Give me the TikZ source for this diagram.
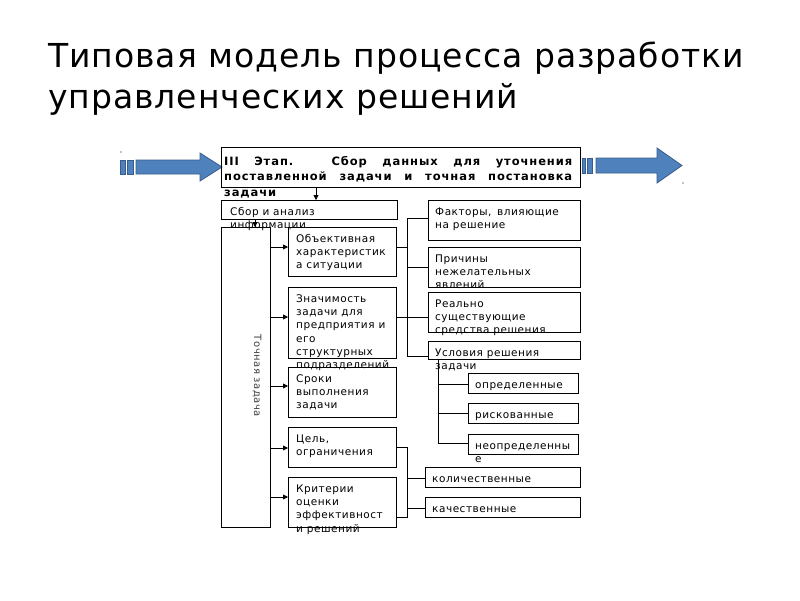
\documentclass[tikz,border=0pt]{standalone}
\usepackage{fontspec}
\setmainfont{DejaVu Sans}
\newfontfamily\bxf[LetterSpace=5]{DejaVu Sans}
\newfontfamily\hdf[LetterSpace=8]{DejaVu Sans}
\newfontfamily\ttf[LetterSpace=3]{DejaVu Sans}
\usetikzlibrary{arrows.meta}
\definecolor{arrowblue}{RGB}{79,129,189}
\definecolor{arrowedge}{RGB}{56,93,138}
\newcommand\stt{\rule{0pt}{10pt}}
\begin{document}
\begin{tikzpicture}[x=1pt,y=-1pt,
  box/.style={draw, line width=0.8pt, inner sep=0, anchor=north west},
  txt/.style={anchor=north west, inner sep=0, align=left, font=\bxf\fontsize{10.5}{13.3}\selectfont},
  conn/.style={line width=0.8pt},
  arr/.style={conn, -{Triangle[length=5pt,width=5pt]}},
  bluearrow/.style={fill=arrowblue, draw=arrowedge, line width=0.8pt},
  titletxt/.style={anchor=base west, inner sep=0, font=\ttf\fontsize{33}{41}\selectfont}]
\useasboundingbox[fill=white] (0,0) rectangle (800,600);

% title
\node[titletxt] (t1) at (48,67) {Типовая модель процесса разработки};
\node[titletxt] (t2) at (48,108) {управленческих решений};

% big arrows
\draw[bluearrow] (120,160) rectangle (125,174);
\draw[bluearrow] (127,160) rectangle (133,174);
\draw[bluearrow] (136,160) -- (200,160) -- (200,153) -- (222,167) -- (200,181) -- (200,174) -- (136,174) -- cycle;
\draw[bluearrow] (582,158) rectangle (585,173);
\draw[bluearrow] (587,158) rectangle (592,173);
\draw[bluearrow] (596,158) -- (657,158) -- (657,148) -- (682,165.5) -- (657,183) -- (657,173) -- (596,173) -- cycle;
\fill (121,152) circle (0.6);
\fill (683,183) circle (0.6);

% boxes
\node[box, minimum width=359, minimum height=40] (main) at (221,147) {};
\node[box, minimum width=176, minimum height=19] (sbor) at (221,200) {};
\node[box, minimum width=49, minimum height=300] (tall) at (221,227) {};
\node[box, minimum width=108, minimum height=49] (ob) at (288,227) {};
\node[box, minimum width=108, minimum height=71] (zn) at (288,287) {};
\node[box, minimum width=108, minimum height=50] (sr) at (288,367) {};
\node[box, minimum width=108, minimum height=40] (cel) at (288,427) {};
\node[box, minimum width=108, minimum height=50] (kr) at (288,477) {};
\node[box, minimum width=152, minimum height=40] (fak) at (428,200) {};
\node[box, minimum width=152, minimum height=40] (pri) at (428,247) {};
\node[box, minimum width=152, minimum height=40] (rea) at (428,292) {};
\node[box, minimum width=152, minimum height=18] (usl) at (428,341) {};
\node[box, minimum width=110, minimum height=20] (opr) at (468,373) {};
\node[box, minimum width=110, minimum height=20] (ris) at (468,403) {};
\node[box, minimum width=110, minimum height=20] (neo) at (468,434) {};
\node[box, minimum width=155, minimum height=20] (kol) at (425,467) {};
\node[box, minimum width=155, minimum height=20] (kach) at (425,497) {};

% texts
\node[anchor=north west, inner sep=0, text width=348, align=justify,
      font=\hdf\bfseries\fontsize{11.5}{15.5}\selectfont] (maintxt) at (224,155)
  {\stt III Этап. Сбор данных для уточнения\linebreak поставленной задачи и точная постановка\linebreak задачи};
\node[txt] (sbortxt) at (230,205) {\stt Сбор и анализ\\информации};
\node[txt] (obtxt) at (296,232) {\stt Объективная\\характеристик\\а ситуации};
\node[txt] (zntxt) at (296,292) {\stt Значимость\\задачи для\\предприятия и\\его\\структурных\\подразделений};
\node[txt] (srtxt) at (296,372) {\stt Сроки\\выполнения\\задачи};
\node[txt] (celtxt) at (296,432) {\stt Цель,\\ограничения};
\node[txt] (krtxt) at (296,482) {\stt Критерии\\оценки\\эффективност\\и решений};
\node[txt] (faktxt) at (435,205) {\stt Факторы,\, влияющие\\на решение};
\node[txt] (pritxt) at (435,252) {\stt Причины\\нежелательных\\явлений};
\node[txt] (reatxt) at (435,297) {\stt Реально\\существующие\\средства решения};
\node[txt] (usltxt) at (435,346) {\stt Условия решения\\задачи};
\node[txt] (oprtxt) at (475,378) {\stt определенные};
\node[txt] (ristxt) at (475,408) {\stt рискованные};
\node[txt] (neotxt) at (475,439) {\stt неопределенны\\е};
\node[txt] (koltxt) at (432,472) {\stt количественные};
\node[txt] (kachtxt) at (432,502) {\stt качественные};
\node[rotate=-90, inner sep=0, text=black!75, font=\bxf\fontsize{10}{12}\selectfont] (tz) at (257,376) {Точная задача};

% connectors
\draw[arr] (main.south -| 316,0) -- (sbor.north -| 316,0);
\draw[arr] (sbor.south -| 255,0) -- (tall.north -| 255,0);
\foreach \yy/\tg in {247/ob, 317/zn, 386/sr, 448/cel, 497/kr}
  \draw[arr] (tall.east |- 0,\yy) -- (\tg.west |- 0,\yy);

% bracket 1
\coordinate (b1t) at (407,218);
\coordinate (b1b) at (407,356);
\draw[conn] (b1t) -- (b1b);
\draw[conn] (ob.east |- 0,247) -- (b1t |- 0,247);
\draw[conn] (zn.east |- 0,317) -- (b1t |- 0,317);
\draw[conn] (b1t) -- (fak.west |- b1t);
\draw[conn] (b1t |- 0,267) -- (pri.west |- 0,267);
\draw[conn] (b1t |- 0,317) -- (rea.west |- 0,317);
\draw[conn] (b1b) -- (usl.west |- b1b);

% conditions subtree
\coordinate (c1) at (438,443);
\draw[conn] (usl.south -| c1) -- (c1) -- (neo.west |- c1);
\draw[conn] (c1 |- 0,384) -- (opr.west |- 0,384);
\draw[conn] (c1 |- 0,413) -- (ris.west |- 0,413);

% bracket 2
\coordinate (b2t) at (407,447);
\coordinate (b2b) at (407,517);
\draw[conn] (cel.east |- b2t) -- (b2t) -- (b2b) -- (kr.east |- b2b);
\draw[conn] (b2t |- 0,478) -- (kol.west |- 0,478);
\draw[conn] (b2t |- 0,508) -- (kach.west |- 0,508);
\end{tikzpicture}
\end{document}
